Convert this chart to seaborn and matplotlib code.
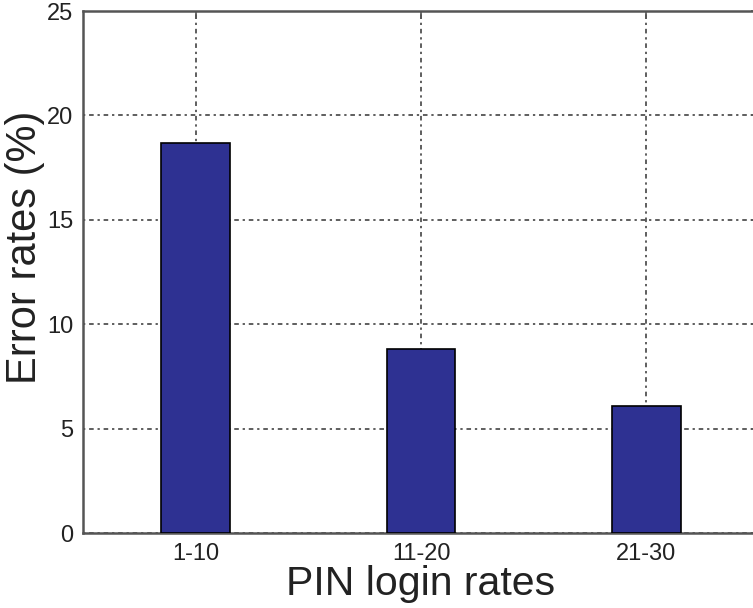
import matplotlib
matplotlib.use("Agg")
import matplotlib.pyplot as plt
import seaborn as sns
import pandas as pd

categories = ["1-10", "11-20", "21-30"]
error_rates = [18.7, 8.8, 6.1]
y_ticks = [0, 5, 10, 15, 20, 25]

df = pd.DataFrame({"cat": categories, "err": error_rates})

sns.set_style("white")
plt.rcParams['font.family'] = ['Liberation Sans', 'DejaVu Sans']

fig = plt.figure(figsize=(7.53, 6.08), dpi=100)
ax = fig.add_axes([83/753, 75/608, (759-83)/753, (533-11)/608])

sns.barplot(data=df, x="cat", y="err", color="#2E3192", saturation=1,
            width=0.306, edgecolor="black", linewidth=1.2, ax=ax, zorder=3)

ax.set_xlim(-0.5, 2.5)
ax.set_ylim(0, 25)
ax.set_yticks(y_ticks)
ax.set_yticklabels([str(t) for t in y_ticks])

ax.grid(True, which="major", color="#333333", linestyle=(0, (1.5, 2.5, 3, 2.5)), linewidth=1.1, zorder=0)
ax.set_axisbelow(True)

for s in ax.spines.values():
    s.set_color("#555555")
    s.set_linewidth(1.8)
    s.set_visible(True)

ax.tick_params(axis="both", direction="in", length=6, width=1.2, color="#555555",
               labelsize=17, labelcolor="#222222", top=True, right=True, pad=7)

ax.set_xlabel("PIN login rates", fontsize=29.5, color="#222222", labelpad=0)
ax.set_ylabel("Error rates (%)", fontsize=30, color="#222222")
ax.yaxis.set_label_coords(-0.056, 0.548)

fig.savefig("out.png", dpi=100)
